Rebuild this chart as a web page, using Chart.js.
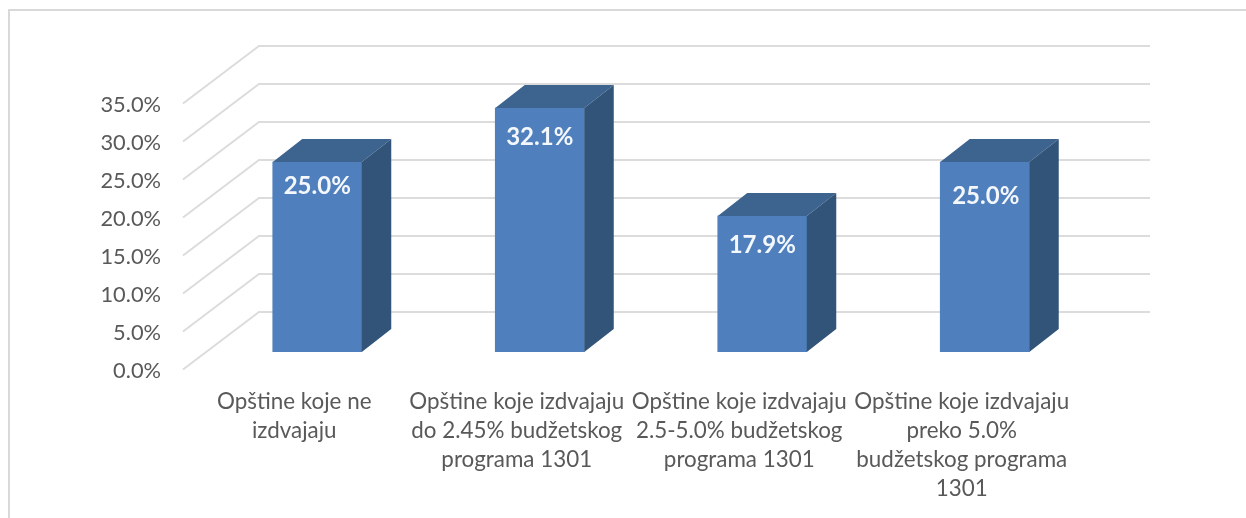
<!DOCTYPE html>
<html>
<head>
<meta charset="utf-8">
<script src="https://cdn.jsdelivr.net/npm/chart.js@4"></script>
<style>html,body{margin:0;padding:0;background:#fff}#w{width:1246px;height:518px;position:relative}</style>
</head>
<body>
<div id="w"><canvas id="c" width="1246" height="518"></canvas></div>
<script>
const categories = [
  ['Opštine koje ne', 'izdvajaju'],
  ['Opštine koje izdvajaju', 'do 2.45% budžetskog', 'programa 1301'],
  ['Opštine koje izdvajaju', '2.5-5.0% budžetskog', 'programa 1301'],
  ['Opštine koje izdvajaju', 'preko 5.0%', 'budžetskog programa', '1301']
];
const values = [25.0, 32.1, 17.9, 25.0];
const labelDrop = [24, 29, 29, 34];
const labelShift = [0, 0, 0, 1];

const FONT = 'Lato, "Open Sans", sans-serif';
const depth = {dx: 29.5, dy: 23};

const scene = {
  id: 'scene',
  beforeDraw(chart) {
    const c = chart.ctx;
    c.save();
    c.strokeStyle = '#d9d9d9';
    c.lineWidth = 2;
    c.beginPath();
    c.moveTo(9, 518); c.lineTo(9, 10); c.lineTo(1246, 10);
    c.stroke();
    c.restore();
  },
  beforeDatasetsDraw(chart) {
    const c = chart.ctx, y = chart.scales.y;
    c.save();
    c.strokeStyle = '#dcdcdc';
    c.lineWidth = 2;
    y.ticks.forEach(t => {
      const p = y.getPixelForValue(t.value);
      c.beginPath();
      c.moveTo(183, p + 17.5);
      c.lineTo(259, p - 40);
      c.lineTo(1150, p - 40);
      c.stroke();
    });
    c.restore();
  },
  afterDatasetsDraw(chart) {
    const c = chart.ctx, meta = chart.getDatasetMeta(0);
    c.save();
    meta.data.forEach((b, i) => {
      const l = b.x - b.width / 2, r = b.x + b.width / 2, top = b.y, base = b.base;
      c.fillStyle = '#3d638f';
      c.beginPath();
      c.moveTo(l, top); c.lineTo(l + depth.dx, top - depth.dy);
      c.lineTo(r + depth.dx, top - depth.dy); c.lineTo(r, top);
      c.closePath(); c.fill();
      c.fillStyle = '#325479';
      c.beginPath();
      c.moveTo(r, top); c.lineTo(r + depth.dx, top - depth.dy);
      c.lineTo(r + depth.dx, base - depth.dy); c.lineTo(r, base);
      c.closePath(); c.fill();
      c.fillStyle = '#f4f7fb';
      c.font = 'bold 24px ' + FONT;
      c.textAlign = 'center';
      c.textBaseline = 'middle';
      c.fillText(values[i].toFixed(1) + '%', b.x + labelShift[i], top + labelDrop[i]);
    });
    c.restore();
  }
};

new Chart(document.getElementById('c'), {
  type: 'bar',
  data: {
    labels: categories,
    datasets: [{data: values, backgroundColor: '#4f80bd', barThickness: 89}]
  },
  plugins: [scene],
  options: {
    responsive: false,
    animation: false,
    layout: {padding: {left: 0, right: 150, top: 86, bottom: 0}},
    plugins: {legend: {display: false}, tooltip: {enabled: false}},
    scales: {
      x: {
        grid: {display: false},
        border: {display: false},
        afterFit(s) { s.height = 166; },
        ticks: {
          autoSkip: false, maxRotation: 0, minRotation: 0,
          labelOffset: -23, padding: 27,
          color: '#595959',
          font: {family: FONT, size: 22.4, lineHeight: 1.295}
        }
      },
      y: {
        min: 0, max: 35,
        grid: {display: false},
        border: {display: false},
        afterFit(s) { s.width = 206; },
        ticks: {
          stepSize: 5, labelOffset: 19, padding: 37,
          color: '#595959',
          font: {family: FONT, size: 21.8},
          callback: v => v.toFixed(1) + '%'
        }
      }
    }
  }
});
</script>
</body>
</html>
